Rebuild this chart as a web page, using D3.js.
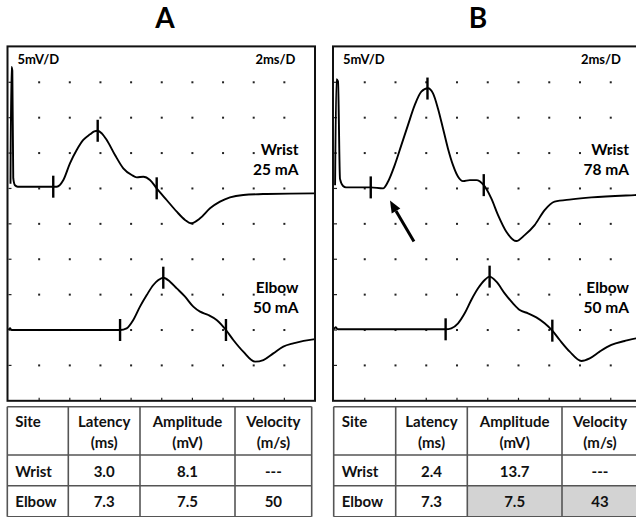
<!DOCTYPE html>
<html>
<head>
<meta charset="utf-8">
<script src="https://cdn.jsdelivr.net/npm/d3@7"></script>
<style>
  body { margin: 0; background: #fff; }
  svg { display: block; font-family: Lato, "Open Sans", sans-serif; font-weight: 700; }
</style>
</head>
<body>
<script>
// traces: [time ms, amplitude mV relative to the trace baseline]
var wristA = [[0.13,0.4],[0.19,16.9],[0.25,16.4],[0.31,1.2],[0.42,0.2],[0.6,0],[2.92,0],[3.15,0],[3.58,0.95],[4.01,3.3],[4.45,5.18],[4.88,6.6],[5.32,7.4],[5.6,7.8],[5.82,7.9],[6.1,7.5],[6.41,6.6],[6.95,4.48],[7.49,2.6],[8.04,1.65],[8.37,1.32],[8.80,1.41],[9.23,0.95],[9.67,-0.23],[10.32,-1.88],[10.98,-3.53],[11.52,-4.7],[11.89,-5.17],[12.50,-4.47],[13.15,-3.06],[13.80,-2.12],[14.45,-1.51],[15.32,-1.17],[16.85,-1.03],[19.89,-0.94],[20,-0.94]];
var elbowA = [[0,0],[0.1,0.25],[0.2,0],[7.28,0],[7.71,0.24],[8.14,1.41],[8.58,3.3],[9.02,4.94],[9.45,6.36],[9.78,7.06],[10.10,7.39],[10.54,6.83],[10.98,5.88],[11.52,4.71],[12.06,3.3],[12.50,2.59],[13.04,2.12],[13.58,1.41],[14.19,0],[14.67,-1.41],[15.32,-3.06],[16.09,-4.47],[16.63,-4.24],[17.28,-3.3],[17.93,-2.35],[18.58,-1.88],[19.89,-1.32],[20,-1.3]];
var wristB = [[0.07,0.3],[0.16,15.3],[0.26,15.0],[0.39,1.2],[0.59,0.2],[0.78,0],[2.39,0],[3.19,-0.14],[3.51,0.8],[3.95,3.15],[4.38,5.97],[4.81,8.8],[5.25,11.62],[5.68,13.52],[6.11,14.0],[6.44,13.28],[6.76,11.16],[7.09,8.33],[7.41,5.51],[7.74,3.15],[8.07,1.51],[8.39,0.89],[8.83,1.03],[9.26,1.03],[9.74,0.32],[10.23,-1.55],[10.67,-3.91],[11.21,-6.26],[11.86,-7.58],[12.40,-6.74],[13.05,-5.32],[13.70,-3.21],[14.35,-2.02],[15.44,-1.69],[16.74,-1.41],[19.56,-1.09],[20,-1.05]];
var elbowB = [[0,0],[0.1,0.3],[0.25,0],[7.26,0],[7.63,0.14],[8.07,0.85],[8.50,2.26],[8.93,4.14],[9.37,5.79],[9.80,6.97],[10.12,7.44],[10.56,6.73],[11.10,5.08],[11.64,3.67],[12.08,2.73],[12.62,2.26],[13.16,1.69],[13.70,0.85],[14.20,-0.19],[14.68,-1.51],[15.33,-3.15],[16.09,-4.47],[16.63,-4.10],[17.28,-3.15],[18.04,-2.21],[18.91,-1.65],[19.66,-1.27],[20,-1.2]];

// cursor marks (ms)
var marksWristA = [2.92, 5.82, 9.67];
var marksElbowA = [7.28, 10.10, 14.19];
var marksWristB = [2.39, 6.08, 9.74];
var marksElbowB = [7.26, 10.12, 14.20];

// baseline of each trace, in divisions from the top
var baselineDiv = { wristA: 3.95, elbowA: 8.0, wristB: 3.97, elbowB: 7.98 };

var stimA = ["25 mA", "50 mA"];
var stimB = ["78 mA", "50 mA"];
var sites = ["Wrist", "Elbow"];

var tableHead = [["Site"], ["Latency", "(ms)"], ["Amplitude", "(mV)"], ["Velocity", "(m/s)"]];
var latencyA = ["3.0", "7.3"], amplitudeA = ["8.1", "7.5"], velocityA = ["---", "50"];
var latencyB = ["2.4", "7.3"], amplitudeB = ["13.7", "7.5"], velocityB = ["---", "43"];

var msPerDiv = 2, mvPerDiv = 5, nDiv = 10;

var svg = d3.select("body").append("svg")
    .attr("width", 636)
    .attr("height", 517);

svg.append("rect").attr("width", 636).attr("height", 517).attr("fill", "#fff");

var plotTop = 46.9, plotBottom = 400.8;

function drawPanel(p) {
    var x = d3.scaleLinear().domain([0, nDiv * msPerDiv]).range([p.left, p.left + p.width]);
    var g = svg.append("g");

    g.append("text").attr("x", p.titleX).attr("y", 28)
        .attr("text-anchor", "middle").attr("font-size", 28).text(p.title);

    // grid dots
    var cols = d3.range(1, nDiv), rows = d3.range(1, nDiv);
    var ydiv = d3.scaleLinear().domain([0, nDiv]).range([plotTop, plotBottom]);
    rows.forEach(function(r) {
        g.selectAll(null).data(cols).enter().append("rect")
            .attr("x", function(c) { return x(c * msPerDiv) - 1; })
            .attr("y", ydiv(r) - 1)
            .attr("width", 2).attr("height", 2)
            .attr("fill", "#222");
        g.append("line")
            .attr("x1", p.left).attr("x2", p.left + 3)
            .attr("y1", ydiv(r)).attr("y2", ydiv(r))
            .attr("stroke", "#222").attr("stroke-width", 1.2);
    });
    g.selectAll(null).data(cols).enter().append("line")
        .attr("x1", function(c) { return x(c * msPerDiv); })
        .attr("x2", function(c) { return x(c * msPerDiv); })
        .attr("y1", plotBottom).attr("y2", plotBottom - 3)
        .attr("stroke", "#222").attr("stroke-width", 1.2);

    g.append("text").attr("x", p.left + 9).attr("y", 64)
        .attr("font-size", 13).text(mvPerDiv + "mV/D");
    g.append("text").attr("x", p.left + 287).attr("y", 64)
        .attr("text-anchor", "end").attr("font-size", 13).text(msPerDiv + "ms/D");

    p.traces.forEach(function(t) {
        var b = t.base;
        var y = d3.scaleLinear().domain([mvPerDiv * b, mvPerDiv * b - nDiv * mvPerDiv]).range([plotTop, plotBottom]);
        var line = d3.line()
            .x(function(d) { return x(d[0]); })
            .y(function(d) { return y(d[1]); })
            .curve(d3.curveMonotoneX);
        g.append("path").datum(t.data)
            .attr("d", line)
            .attr("fill", "none")
            .attr("stroke", "#000")
            .attr("stroke-width", 1.9)
            .attr("stroke-linejoin", "round");

        var ts = t.data.map(function(d) { return d[0]; });
        var interp = function(ms) {
            var i = d3.bisectLeft(ts, ms);
            if (i <= 0) return t.data[0][1];
            var a = t.data[i - 1], c = t.data[i];
            return a[1] + (c[1] - a[1]) * (ms - a[0]) / (c[0] - a[0]);
        };
        g.selectAll(null).data(t.marks).enter().append("line")
            .attr("x1", function(d) { return x(d); })
            .attr("x2", function(d) { return x(d); })
            .attr("y1", function(d) { return y(interp(d)) - 11; })
            .attr("y2", function(d) { return y(interp(d)) + 11; })
            .attr("stroke", "#000").attr("stroke-width", 2.4);

        g.append("text").attr("x", p.labelX).attr("y", t.labelY)
            .attr("text-anchor", "end").attr("font-size", 15.5).text(t.site);
        g.append("text").attr("x", p.labelX).attr("y", t.labelY + 20)
            .attr("text-anchor", "end").attr("font-size", 15.5).text(t.stim);

        if (t.arrow) {
            var tip = [x(t.arrow[0][0]), y(t.arrow[0][1])];
            var tail = [x(t.arrow[1][0]), y(t.arrow[1][1])];
            var ang = Math.atan2(tip[1] - tail[1], tip[0] - tail[0]);
            var len = 12, hw = 5;
            var bx = tip[0] - len * Math.cos(ang), by = tip[1] - len * Math.sin(ang);
            g.append("line")
                .attr("x1", tail[0]).attr("y1", tail[1]).attr("x2", bx).attr("y2", by)
                .attr("stroke", "#000").attr("stroke-width", 3);
            g.append("path")
                .attr("d", "M" + tip[0] + "," + tip[1] +
                    "L" + (bx + hw * Math.sin(ang)) + "," + (by - hw * Math.cos(ang)) +
                    "L" + (bx - hw * Math.sin(ang)) + "," + (by + hw * Math.cos(ang)) + "Z")
                .attr("fill", "#000");
        }
    });

    g.append("rect")
        .attr("x", p.left - 1).attr("y", plotTop - 0.5)
        .attr("width", p.width + 1).attr("height", plotBottom - plotTop + 0.5)
        .attr("fill", "none").attr("stroke", "#111").attr("stroke-width", 2);

    drawTable(p);
}

function drawTable(p) {
    var widths = p.colWidths;
    var xs = [p.tableLeft];
    widths.forEach(function(w, i) { xs.push(xs[i] + w); });
    var ys = [406.7, 455, 485.7, 516.7];
    var g = svg.append("g");

    p.shade.forEach(function(s) {
        g.append("rect")
            .attr("x", xs[s[1]]).attr("y", ys[s[0] + 1])
            .attr("width", widths[s[1]]).attr("height", ys[s[0] + 2] - ys[s[0] + 1])
            .attr("fill", "#d3d3d3");
    });

    ys.forEach(function(yy) {
        g.append("line").attr("x1", xs[0]).attr("x2", xs[xs.length - 1])
            .attr("y1", yy).attr("y2", yy)
            .attr("stroke", "#555").attr("stroke-width", 1.6);
    });
    xs.forEach(function(xx) {
        g.append("line").attr("x1", xx).attr("x2", xx)
            .attr("y1", ys[0]).attr("y2", ys[3])
            .attr("stroke", "#555").attr("stroke-width", 1.6);
    });

    tableHead.forEach(function(h, i) {
        h.forEach(function(s, k) {
            g.append("text")
                .attr("x", i === 0 ? xs[0] + 8 : (xs[i] + xs[i + 1]) / 2)
                .attr("y", 427 + k * 21)
                .attr("text-anchor", i === 0 ? "start" : "middle")
                .attr("font-size", 15).attr("fill", "#111")
                .text(s);
        });
    });

    var rowY = [477, 507];
    sites.forEach(function(site, r) {
        var cells = [site, p.latency[r], p.amplitude[r], p.velocity[r]];
        cells.forEach(function(s, i) {
            g.append("text")
                .attr("x", i === 0 ? xs[0] + 8 : (xs[i] + xs[i + 1]) / 2)
                .attr("y", rowY[r])
                .attr("text-anchor", i === 0 ? "start" : "middle")
                .attr("font-size", 15).attr("fill", "#111")
                .text(s);
        });
    });
}

drawPanel({
    title: "A", titleX: 165, left: 8.5, width: 306.5, labelX: 298.5,
    traces: [
        { data: wristA, marks: marksWristA, base: baselineDiv.wristA, site: sites[0], stim: stimA[0], labelY: 155 },
        { data: elbowA, marks: marksElbowA, base: baselineDiv.elbowA, site: sites[1], stim: stimA[1], labelY: 293 }
    ],
    tableLeft: 7.3, colWidths: [61, 71.7, 95, 76.7],
    latency: latencyA, amplitude: amplitudeA, velocity: velocityA, shade: []
});

drawPanel({
    title: "B", titleX: 478, left: 334, width: 307.5, labelX: 629,
    traces: [
        { data: wristB, marks: marksWristB, base: baselineDiv.wristB, site: sites[0], stim: stimB[0], labelY: 155,
          arrow: [[3.64, -1.86], [5.2, -7.66]] },
        { data: elbowB, marks: marksElbowB, base: baselineDiv.elbowB, site: sites[1], stim: stimB[1], labelY: 293 }
    ],
    tableLeft: 333.7, colWidths: [62, 71.6, 94.7, 76],
    latency: latencyB, amplitude: amplitudeB, velocity: velocityB, shade: [[1, 2], [1, 3]]
});
</script>
</body>
</html>
